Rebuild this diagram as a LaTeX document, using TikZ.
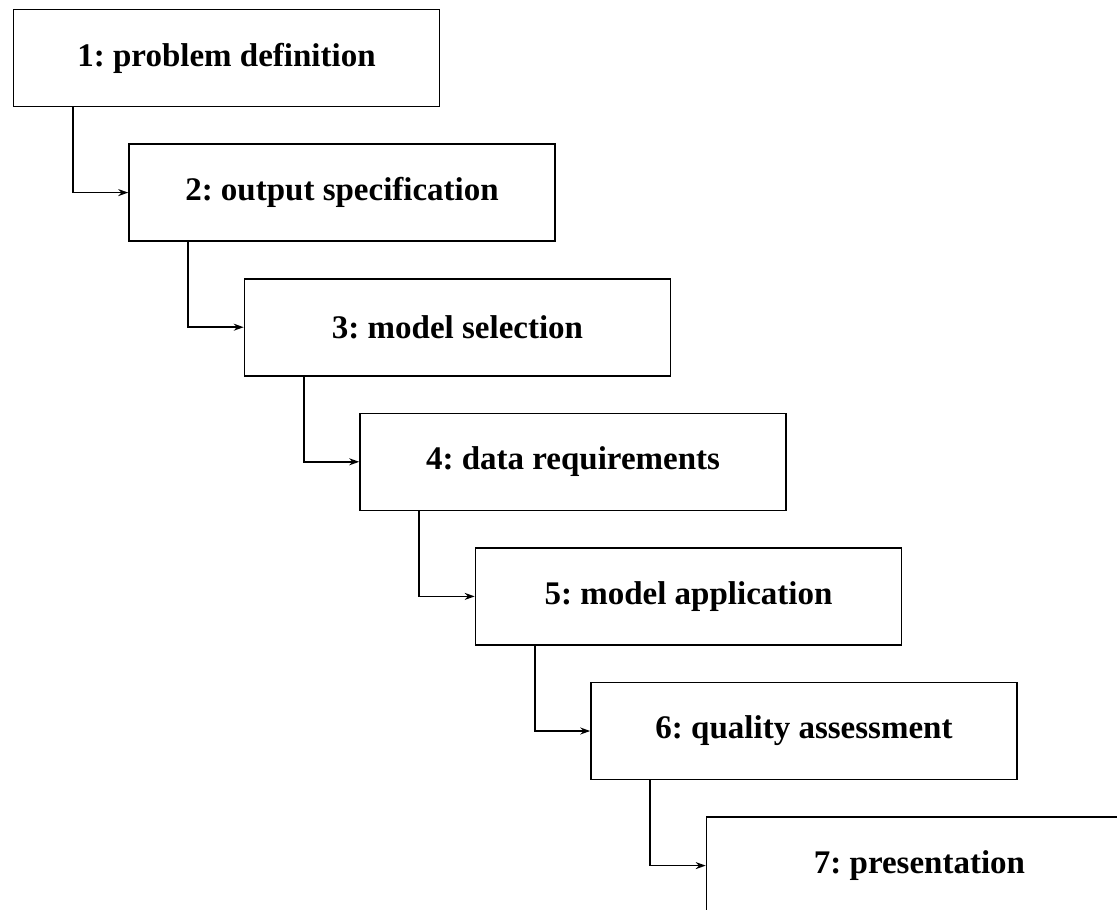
\documentclass[tikz,border=0pt]{standalone}
\usepackage{fontspec}
\setmainfont{Liberation Serif}
\usetikzlibrary{arrows.meta}
\frenchspacing
\begin{document}
\begin{tikzpicture}[x=1pt,y=-1pt,>={Stealth[length=10pt,width=7pt]},line width=1.6pt,font=\fontsize{33}{40}\selectfont\bfseries,
		stepbox/.style={draw,rectangle,minimum width=426pt,minimum height=97pt,inner sep=0pt}]
				\useasboundingbox (0,0) rectangle (1117,910);
				\clip (0,0) rectangle (1117,910);
				\foreach \i/\txt in {1/problem definition,2/output specification,3/model selection,4/data requirements,5/model application,6/quality assessment,7/presentation}
					\node[stepbox] (n\i) at ({226.5+115.5*(\i-1)},{58+134.6*(\i-1)}) {\i: \txt};
				% connectors
				\foreach \i [count=\j from 2] in {1,...,6}
					\draw[->] ([xshift=60pt]n\i.south west) |- (n\j.west);
			\end{tikzpicture}
\end{document}
